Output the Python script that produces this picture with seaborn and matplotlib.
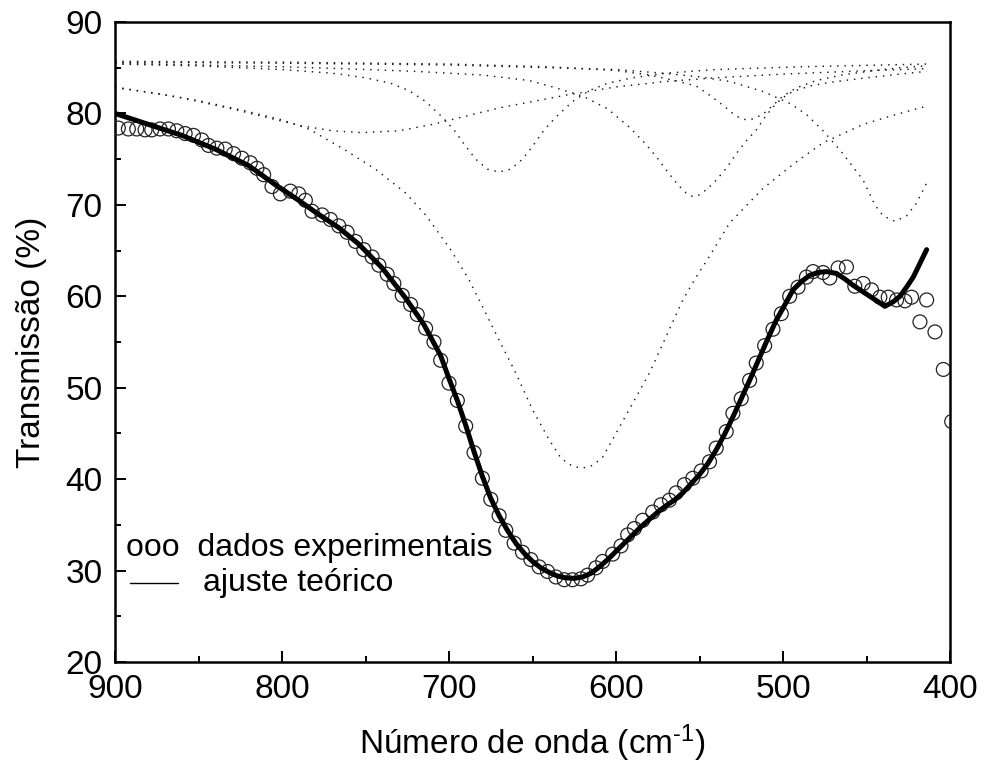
import matplotlib
matplotlib.use("Agg")
import matplotlib.pyplot as plt
import seaborn as sns
from matplotlib.ticker import MultipleLocator

# ---------------- data ----------------
exp_x = [898, 892, 887, 882, 878, 873, 868, 863, 858, 853,
         848, 844, 839, 834, 829, 824, 819, 815, 811, 806,
         801, 795, 790, 786, 782, 776, 771, 766, 761, 756,
         751, 746, 742, 737, 733, 728, 723, 719, 714, 709,
         705, 700, 695, 690, 685, 680, 675, 670, 666, 661,
         656, 651, 646, 641, 636, 631, 626, 621, 617, 612,
         608, 602, 597, 593, 589, 584, 578, 573, 568, 564,
         559, 554, 549, 544, 540, 534, 530, 525, 520, 516,
         511, 506, 501, 496, 491, 486, 482, 476, 472, 467,
         462, 457, 452, 447, 442, 437, 432, 427, 423, 418,
         414, 409, 404, 399]
exp_y = [78.4, 78.3, 78.3, 78.2, 78.2, 78.3, 78.3, 78.1, 77.8, 77.6,
         77.1, 76.5, 76.2, 76.1, 75.6, 75.1, 74.6, 74.0, 73.3, 72.0,
         71.2, 71.5, 71.2, 70.5, 69.3, 68.9, 68.4, 67.7, 67.0, 66.0,
         65.1, 64.3, 63.4, 62.4, 61.4, 60.1, 59.1, 58.0, 56.5, 55.0,
         53.0, 50.5, 48.6, 45.8, 42.9, 40.1, 37.8, 36.0, 34.4, 33.0,
         32.0, 31.2, 30.4, 29.9, 29.3, 29.0, 29.0, 29.1, 29.5, 30.3,
         31.0, 31.8, 32.7, 33.9, 34.6, 35.5, 36.4, 37.2, 37.7, 38.5,
         39.4, 40.1, 40.9, 41.9, 43.4, 45.2, 47.2, 48.8, 50.8, 52.7,
         54.6, 56.4, 58.1, 60.0, 61.0, 62.1, 62.7, 62.6, 62.0, 63.1,
         63.2, 61.1, 61.4, 60.7, 59.9, 59.9, 59.6, 59.5, 59.9, 57.2,
         59.6, 56.1, 52.0, 46.3]

fit_x = [900, 880, 860, 840, 820, 804, 790, 780, 766, 754,
         740, 726, 715, 705, 700, 695, 690, 685, 680, 675,
         670, 665, 660, 655, 650, 645, 640, 635, 630, 625,
         620, 615, 610, 605, 600, 595, 590, 585, 580, 575,
         570, 565, 560, 555, 550, 545, 540, 535, 530, 525,
         520, 515, 510, 504, 500, 494, 489, 484, 479, 474,
         468, 463, 458, 453, 448, 443, 439, 434, 430, 426,
         422, 418, 414]
fit_y = [80.0, 78.8, 77.6, 76.1, 74.3, 72.2, 70.5, 69.2, 67.5, 65.7,
         63.1, 59.8, 56.9, 53.5, 51.0, 48.6, 45.9, 43.0, 40.3, 37.9,
         36.0, 34.4, 33.0, 31.9, 31.0, 30.3, 29.8, 29.4, 29.2, 29.15,
         29.3, 29.7, 30.4, 31.2, 32.1, 33.0, 33.9, 34.8, 35.6, 36.4,
         37.1, 37.7, 38.5, 39.5, 40.5, 41.7, 43.2, 44.9, 46.8, 48.8,
         50.8, 52.9, 55.0, 57.4, 58.7, 60.7, 61.6, 62.3, 62.6, 62.7,
         62.5, 61.9, 61.2, 60.6, 60.0, 59.4, 58.9, 59.4, 60.0, 61.0,
         62.1, 63.6, 65.1]

# component bands (dotted curves)
comp_a_x = [900, 875, 850, 825, 800, 784, 764, 744, 726, 714,
            699, 688, 680, 670, 660, 650, 640, 633, 626, 620,
            614, 608, 600, 590, 580, 570, 560, 552, 545, 532,
            512, 492, 476, 452, 434, 414]
comp_a_y = [82.8, 82.2, 81.4, 80.4, 79.3, 78.3, 76.2, 73.9, 71.3, 68.9,
            65.1, 61.8, 58.9, 55.2, 51.6, 47.6, 44.3, 42.3, 41.4, 41.2,
            41.5, 42.4, 45.0, 48.3, 51.6, 55.6, 59.6, 62.1, 64.1, 68.0,
            71.8, 74.7, 76.8, 78.8, 79.8, 80.8]

comp_b_x = [900, 850, 800, 770, 750, 735, 724, 714, 704, 697,
            690, 684, 677, 670, 663, 656, 650, 643, 636, 626,
            616, 605, 590, 570, 540, 490, 414]
comp_b_y = [85.4, 85.2, 84.8, 84.4, 83.9, 83.3, 82.5, 81.3, 79.6, 78.2,
            76.4, 75.0, 73.9, 73.6, 73.9, 75.0, 76.4, 78.2, 79.6, 81.3,
            82.5, 83.3, 83.9, 84.4, 84.8, 85.1, 85.4]

comp_c_x = [900, 850, 800, 764, 720, 680, 652, 636, 620, 605,
            592, 583, 576, 569, 563, 558, 554, 550, 545, 540,
            534, 528, 522, 516, 510, 504, 498, 494, 484, 472,
            450, 430, 414]
comp_c_y = [85.5, 85.3, 85.1, 84.9, 84.6, 84.2, 83.6, 82.8, 81.9, 80.5,
            78.5, 76.8, 75.3, 73.6, 72.2, 71.3, 70.9, 71.1, 71.8, 72.7,
            74.0, 75.6, 77.0, 78.2, 79.8, 81.1, 82.0, 82.4, 83.0, 83.4,
            83.9, 84.3, 84.6]

comp_d_x = [900, 800, 700, 640, 600, 580, 565, 552, 544, 536,
            530, 526, 522, 518, 512, 506, 500, 492, 480, 465,
            445, 430, 414]
comp_d_y = [85.7, 85.6, 85.4, 85.1, 84.7, 84.2, 83.6, 83.0, 82.0, 80.9,
            80.0, 79.5, 79.3, 79.4, 79.9, 80.9, 81.9, 82.8, 83.6, 84.2,
            84.7, 85.0, 85.2]

comp_e_x = [900, 800, 700, 600, 572, 550, 532, 512, 496, 486,
            476, 465, 452, 445, 440, 433, 426, 420, 414]
comp_e_y = [85.6, 85.5, 85.3, 84.8, 84.4, 84.0, 83.5, 82.4, 81.1, 79.9,
            78.1, 75.8, 72.7, 70.0, 68.8, 68.2, 68.8, 70.2, 72.4]

comp_f_x = [900, 880, 860, 850, 830, 810, 790, 770, 752, 730,
            710, 690, 670, 650, 630, 600, 570, 540, 500, 460, 414]
comp_f_y = [82.9, 82.3, 81.7, 81.3, 80.5, 79.6, 78.7, 78.1, 77.9, 78.1,
            78.8, 79.7, 80.6, 81.3, 82.0, 82.9, 83.5, 83.9, 84.3, 84.6, 84.9]

components = [(comp_a_x, comp_a_y), (comp_b_x, comp_b_y), (comp_c_x, comp_c_y),
              (comp_d_x, comp_d_y), (comp_e_x, comp_e_y), (comp_f_x, comp_f_y)]

x_ticks = [900, 800, 700, 600, 500, 400]
y_ticks = [20, 30, 40, 50, 60, 70, 80, 90]

# ---------------- style ----------------
sns.set_style("ticks")
plt.rcParams["font.family"] = ["Liberation Sans", "DejaVu Sans"]
plt.rcParams["mathtext.fontset"] = "custom"
plt.rcParams["mathtext.rm"] = "Liberation Sans"
plt.rcParams["mathtext.default"] = "regular"
for key in ["text.color", "axes.labelcolor", "xtick.color", "ytick.color",
            "xtick.labelcolor", "ytick.labelcolor", "axes.edgecolor"]:
    plt.rcParams[key] = "black"

FS = 24
FS_LEG = 23

fig = plt.figure(figsize=(9.85, 7.76), dpi=100)
ax = fig.add_axes([115 / 985, 1 - 662 / 776, 835 / 985, 640 / 776])

for cx, cy in components:
    sns.lineplot(x=cx, y=cy, ax=ax, color="#1a1a1a", lw=1.05,
                 linestyle=(0, (1, 4)), sort=False, estimator=None, zorder=2)

sns.scatterplot(x=exp_x, y=exp_y, ax=ax, marker="o", s=100,
                facecolor="none", edgecolor="#222222", linewidth=0.9, zorder=3)

sns.lineplot(x=fit_x, y=fit_y, ax=ax, color="black", lw=3.6,
             sort=False, estimator=None, zorder=4)

ax.set_xlim(900, 400)
ax.set_ylim(20, 90)
ax.set_xticks(x_ticks)
ax.set_yticks(y_ticks)
ax.xaxis.set_minor_locator(MultipleLocator(50))
ax.yaxis.set_minor_locator(MultipleLocator(5))
ax.tick_params(which="both", direction="in", top=False, right=False,
               width=1.4, color="black", labelcolor="black", labelsize=FS, pad=9)
ax.tick_params(which="major", length=8)
ax.tick_params(which="minor", length=4.5)
for sp in ax.spines.values():
    sp.set_visible(True)
    sp.set_linewidth(1.8)
    sp.set_color("black")

ax.set_xlabel("Número de onda (cm$^{\u2010 1}$)", fontsize=FS, labelpad=12,
              color="black")
ax.set_ylabel("Transmissão (%)", fontsize=FS, labelpad=13, color="black")

# text legend as in the original
ax.text(0.013, 0.178, "ooo  dados experimentais", transform=ax.transAxes,
        fontsize=FS_LEG, va="center", ha="left", color="black")
ax.plot([0.018, 0.075], [0.123, 0.123], transform=ax.transAxes,
        color="black", lw=1.0)
ax.text(0.105, 0.123, "ajuste teórico", transform=ax.transAxes,
        fontsize=FS_LEG, va="center", ha="left", color="black")

fig.savefig("out.png", dpi=100)
